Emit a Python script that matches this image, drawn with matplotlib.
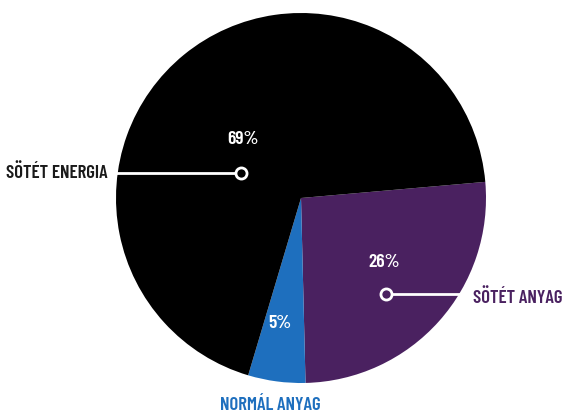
import matplotlib.pyplot as plt

# composition of the universe
labels = ["SÖTÉT ANYAG", "NORMÁL ANYAG", "SÖTÉT ENERGIA"]
shares = [26, 5, 69]
colors = ["#4a2160", "#1e6fbe", "#000000"]
label_colors = ["#4a2160", "#1e6fbe", "#1a1a1a"]

FONT = ["Barlow Condensed", "DejaVu Sans"]

fig = plt.figure(figsize=(5.65, 4.15), dpi=100)
ax = fig.add_axes([0, 0, 1, 1])

wedges, _ = ax.pie(shares, colors=colors, startangle=5, counterclock=False,
                   radius=1.0, center=(0, 0))

# 185 px per data unit, pie centre at (301, 198) px
ax.set_xlim(-301 / 185, (565 - 301) / 185)
ax.set_ylim(-(415 - 198) / 185, 198 / 185)
ax.set_aspect("auto")
ax.axis("off")

pct_kw = dict(color="white", fontsize=14, fontweight=600, family=FONT,
              ha="center", va="center")
ax.text(-0.314, 0.314, f"{shares[2]}%", **pct_kw)
ax.text(0.449, -0.351, f"{shares[0]}%", **pct_kw)
ax.text(-0.114, -0.676, f"{shares[1]}%", **pct_kw)

# leader lines with small ring markers
ax.plot([-1.005, -0.324], [0.135, 0.135], color="white", lw=2, zorder=3)
ax.plot([-0.324], [0.135], "o", ms=8, mfc="black", mec="white", mew=2, zorder=4)
ax.plot([0.459, 0.892], [-0.519, -0.519], color="white", lw=2, zorder=3)
ax.plot([0.459], [-0.519], "o", ms=8, mfc=colors[0], mec="white", mew=2, zorder=4)

name_kw = dict(fontsize=13.5, fontweight=600, family=FONT, va="center")
ax.text(-1.043, 0.135, labels[2], color=label_colors[2], ha="right", **name_kw)
ax.text(0.930, -0.54, labels[0], color=label_colors[0], ha="left", **name_kw)
ax.text(-0.168, -1.119, labels[1], color=label_colors[1], ha="center", **name_kw)

fig.savefig("out.png", dpi=100)
